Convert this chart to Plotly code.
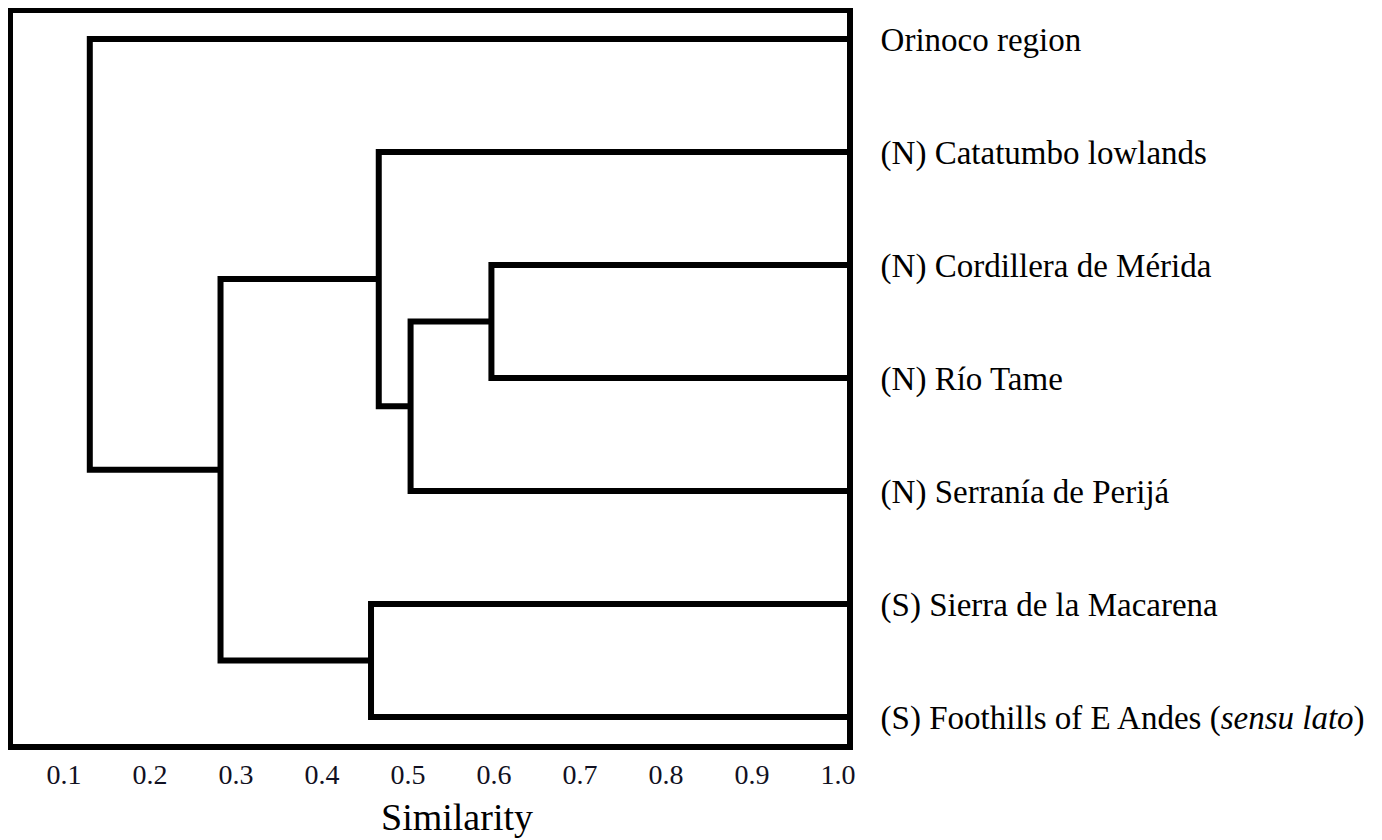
import plotly.graph_objects as go

# ---- data ----
leaf_labels = [
    "Orinoco region",
    "(N) Catatumbo lowlands",
    "(N) Cordillera de Mérida",
    "(N) Río Tame",
    "(N) Serranía de Perijá",
    "(S) Sierra de la Macarena",
    "(S) Foothills of E Andes (<i>sensu lato</i>)",
]
# merges: children are leaf indices (0-based, "L#") or earlier merges ("M#")
merge_left = ["L2", "M0", "L1", "L5", "M2", "L0"]
merge_right = ["L3", "L4", "M1", "L6", "M3", "M4"]
merge_similarity = [0.597, 0.503, 0.466, 0.457, 0.282, 0.130]

tick_values = [0.1, 0.2, 0.3, 0.4, 0.5, 0.6, 0.7, 0.8, 0.9, 1.0]
tick_labels = ["0.1", "0.2", "0.3", "0.4", "0.5", "0.6", "0.7", "0.8", "0.9", "1.0"]
x_title = "Similarity"

# ---- layout parameters ----
X_MIN, X_MAX = 0.0407, 1.01047
Y_TOP, Y_BOTTOM = 0.770, 7.239
FONT = "Liberation Serif, Times New Roman, serif"
W, H = 1374, 832          # page body adds an 8px offset
ML, MT = 5, 5
PW, PH = 834, 731

# ---- build dendrogram paths ----
leaf_y = {f"L{i}": i + 1 for i in range(len(leaf_labels))}
pos = {k: (X_MAX, v) for k, v in leaf_y.items()}
xs, ys = [], []
for i, (a, b, s) in enumerate(zip(merge_left, merge_right, merge_similarity)):
    xa, ya = pos[a]
    xb, yb = pos[b]
    xs += [xa, s, s, xb, None]
    ys += [ya, ya, yb, yb, None]
    pos[f"M{i}"] = (s, (ya + yb) / 2)

fig = go.Figure()
fig.add_trace(go.Scatter(
    x=xs, y=ys, mode="lines",
    line=dict(color="black", width=6),
    hoverinfo="skip", showlegend=False,
))

fig.update_layout(
    width=W, height=H,
    margin=dict(l=ML, r=W - ML - PW, t=MT, b=H - MT - PH, autoexpand=False),
    paper_bgcolor="white", plot_bgcolor="white",
    font=dict(family=FONT, color="black"),
    xaxis=dict(
        range=[X_MIN, X_MAX], showgrid=False, zeroline=False,
        showline=True, mirror=True, linewidth=6, linecolor="black",
        tickmode="array", tickvals=tick_values, ticktext=tick_labels,
        ticks="", tickfont=dict(family=FONT, size=28, color="#111122"),
        ticklabelstandoff=0,
    ),
    yaxis=dict(
        range=[Y_BOTTOM, Y_TOP], showgrid=False, zeroline=False,
        showline=True, mirror=True, linewidth=6, linecolor="black",
        side="right",
        tickmode="array", tickvals=list(range(1, len(leaf_labels) + 1)),
        ticktext=leaf_labels, ticks="",
        tickfont=dict(family=FONT, size=33, color="black"),
        ticklabelstandoff=21,
    ),
    annotations=[dict(
        text=x_title, xref="paper", yref="paper",
        x=(457 - 13) / PW, y=-(817 - 744) / PH,
        xanchor="center", yanchor="middle", showarrow=False,
        font=dict(family=FONT, size=38, color="black"),
    )],
)

fig.write_html("out.html")
